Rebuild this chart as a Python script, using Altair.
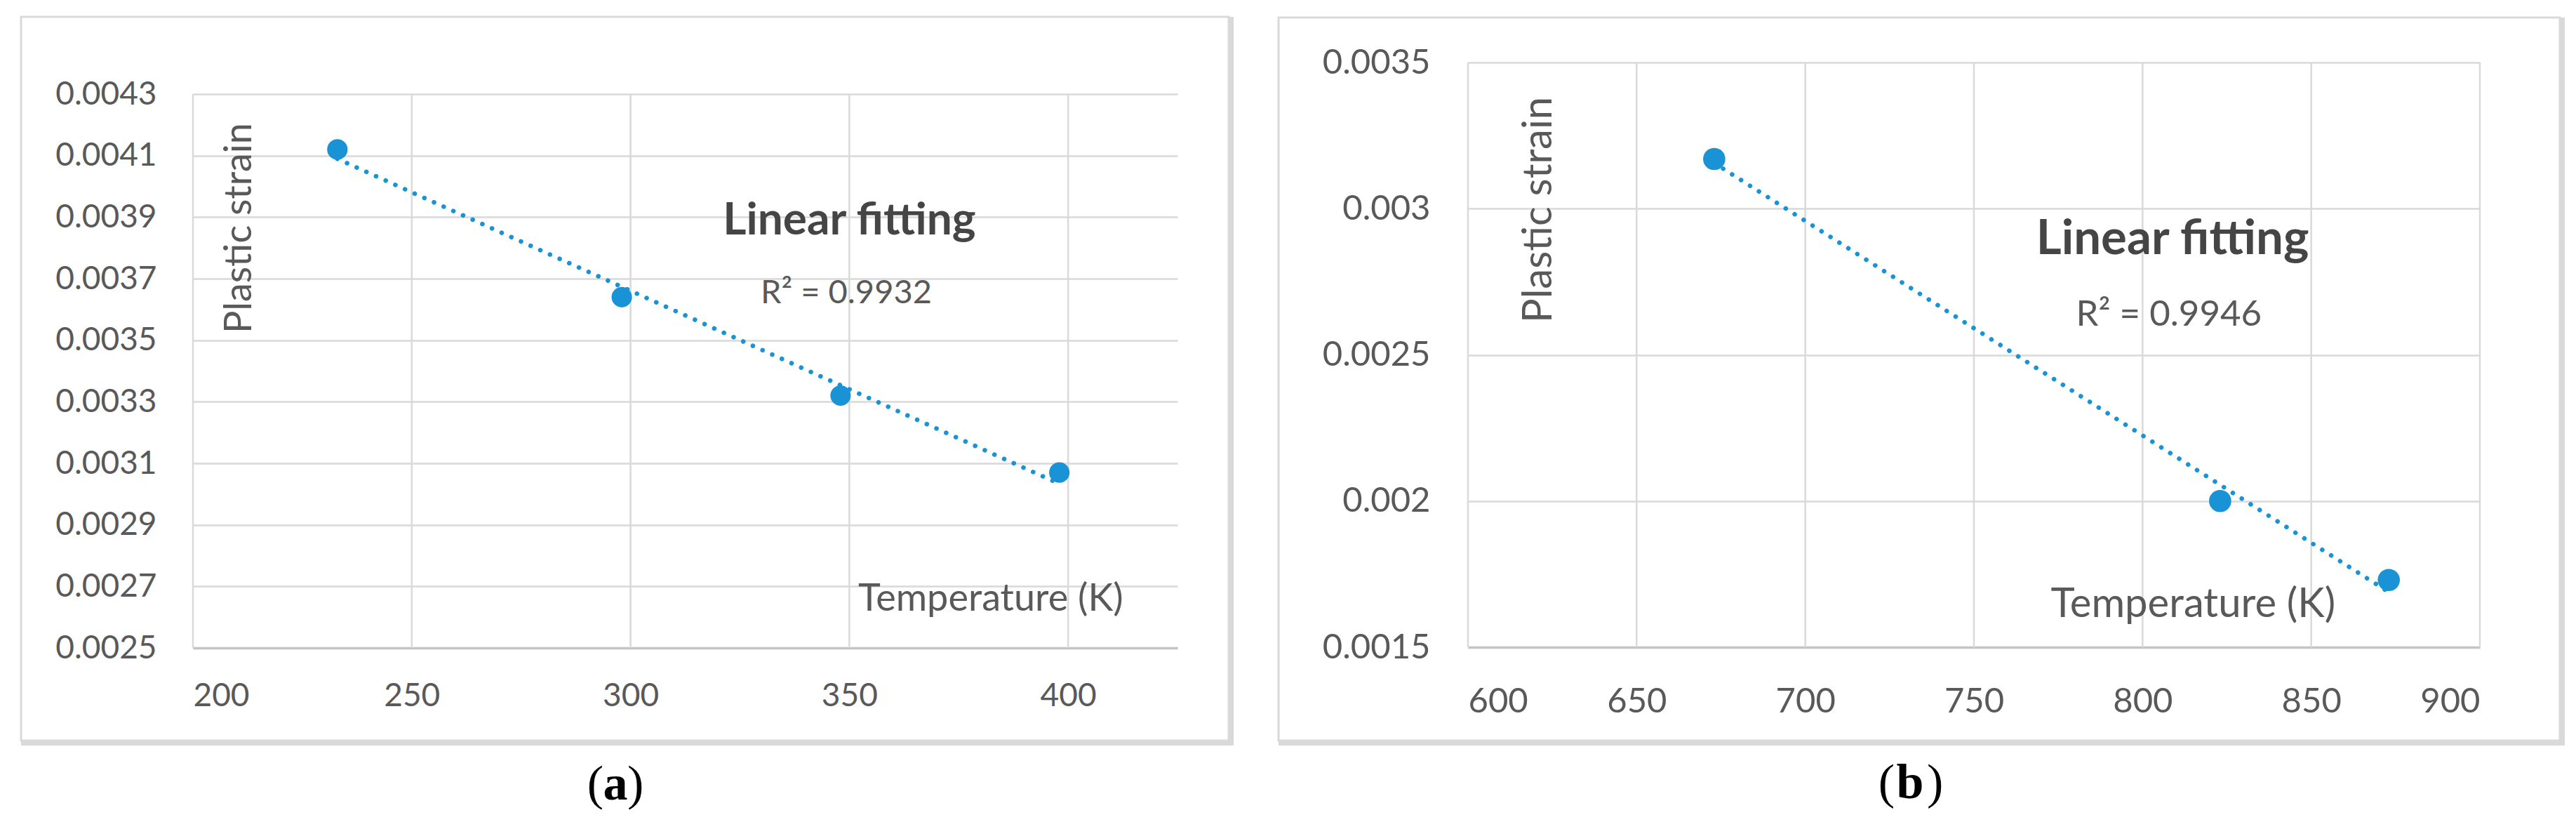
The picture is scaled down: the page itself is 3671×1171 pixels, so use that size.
import altair as alt
import pandas as pd

# ---- data ----
temp_a = [233, 298, 348, 398]
strain_a = [0.00412, 0.00364, 0.00332, 0.00307]
xticks_a = [200, 250, 300, 350, 400]
yticks_a = [0.0025, 0.0027, 0.0029, 0.0031, 0.0033, 0.0035, 0.0037, 0.0039, 0.0041, 0.0043]
r2_a = "R² = 0.9932"

temp_b = [673, 823, 873]
strain_b = [0.00317, 0.00200, 0.00173]
xticks_b = [600, 650, 700, 750, 800, 850, 900]
yticks_b = [0.0015, 0.002, 0.0025, 0.003, 0.0035]
r2_b = "R² = 0.9946"

BLUE = "#1a93d6"
GRID = "#d9d9d9"
TXT = "#595959"
FONT = "Lato"


def panel(temps, strains, xticks, yticks, xdom, ydom, yfmt, W, H, top_gap,
          border, tick_fs, ylpad, xlpad, pt_size, texts, label, label_pos):
    df = pd.DataFrame({"T": temps, "strain": strains})
    ticks_df = pd.DataFrame({"T": xticks})
    one = alt.Data(values=[{}])

    xenc = alt.X("T:Q", scale=alt.Scale(domain=xdom, nice=False, zero=False),
                 axis=alt.Axis(values=xticks, grid=False,
                               domain=True, domainColor="#c4c4c4", domainWidth=3.5,
                               ticks=False, tickSize=0, labelFont=FONT, labelFontSize=tick_fs,
                               labelColor=TXT, labelPadding=xlpad, title=None, format="d"))
    yenc = alt.Y("strain:Q", scale=alt.Scale(domain=ydom, nice=False, zero=False,
                                             range=[H, top_gap]),
                 axis=alt.Axis(values=yticks, grid=True, gridColor=GRID, gridWidth=2.5,
                               domain=False, ticks=False, tickSize=0, labelFont=FONT,
                               labelFontSize=tick_fs, labelColor=TXT, labelPadding=ylpad,
                               title=None, format=yfmt))

    L, T, R, B = border
    outline = alt.Chart(one).mark_rect(fill="white", fillOpacity=0, stroke=GRID, strokeWidth=3).encode(
        x=alt.value(L), x2=alt.value(R), y=alt.value(T), y2=alt.value(B))
    band_b = alt.Chart(one).mark_rect(color=GRID).encode(
        x=alt.value(L), x2=alt.value(R + 7), y=alt.value(B - 1), y2=alt.value(B + 7))
    band_r = alt.Chart(one).mark_rect(color=GRID).encode(
        x=alt.value(R - 1), x2=alt.value(R + 7), y=alt.value(T), y2=alt.value(B + 7))

    vgrid = alt.Chart(ticks_df).mark_rule(color=GRID, strokeWidth=2.5).encode(
        x=xenc, y=alt.value(top_gap), y2=alt.value(H))

    trend = alt.Chart(df).transform_regression("T", "strain").mark_line(
        color=BLUE, strokeWidth=6.5, strokeDash=[0.1, 15], strokeCap="round").encode(x=xenc, y=yenc)
    pts = alt.Chart(df).mark_circle(size=pt_size, color=BLUE, opacity=1).encode(x=xenc, y=yenc)

    layers = [outline, band_b, band_r, vgrid, trend, pts]
    for (txt, tx, ty, fs, weight, color, angle) in texts:
        kw = dict(text=txt, font=FONT, fontSize=fs, fontWeight=weight, color=color,
                  align="center", baseline="alphabetic")
        if angle:
            kw["angle"] = angle
        layers.append(alt.Chart(one).mark_text(**kw).encode(x=alt.datum(tx), y=alt.datum(ty)))

    lx_open, lx_mid, lx_close, ly = label_pos
    layers.append(alt.Chart(one).mark_text(text="(", font="Liberation Serif", fontSize=70,
                                           color="black", align="right", baseline="alphabetic").encode(
        x=alt.value(lx_open), y=alt.value(ly)))
    layers.append(alt.Chart(one).mark_text(text=label, font="Liberation Serif", fontSize=70,
                                           fontWeight="bold", color="black", align="center",
                                           baseline="alphabetic").encode(
        x=alt.value(lx_mid), y=alt.value(ly)))
    layers.append(alt.Chart(one).mark_text(text=")", font="Liberation Serif", fontSize=70,
                                           color="black", align="left", baseline="alphabetic").encode(
        x=alt.value(lx_close), y=alt.value(ly)))

    return alt.layer(*layers).properties(width=W, height=H)


texts_a = [
    ("Linear fitting", 350, 0.003844, 64, "bold", "#454545", 0),
    (r2_a, 349.3, 0.00362, 47, "normal", TXT, 0),
    ("Temperature (K)", 382.3, 0.002621, 54, "normal", TXT, 0),
    ("Plastic strain", 213.3, 0.003864, 54, "normal", TXT, 270),
]
texts_b = [
    ("Linear fitting", 808.9, 0.002845, 69, "bold", "#454545", 0),
    (r2_b, 807.8, 0.0026, 51, "normal", TXT, 0),
    ("Temperature (K)", 815, 0.001603, 58, "normal", TXT, 0),
    ("Plastic strain", 624.8, 0.002996, 58, "normal", TXT, 270),
]

# both views start at page y = 87; panel (a)'s plot area begins 45 px lower
pa = panel(temp_a, strain_a, xticks_a, yticks_a, [200, 425], [0.0025, 0.0043], ".4f",
           1403, 834, 45, (-245, -65, 1476, 966), 46, 52, 46, 850, texts_a, "a",
           (585, 602, 619, 1050))
pb = panel(temp_b, strain_b, xticks_b, yticks_b, [600, 900], [0.0015, 0.0035], "~f",
           1442, 833, 0, (-270, -64, 1556, 966), 49, 54, 53, 1000, texts_b, "b",
           (608, 630, 654, 1048))

chart = alt.hconcat(pa, pb, spacing=62).properties(
    padding={"left": 20, "top": 14, "right": 0, "bottom": 0},
    background="white",
).configure_view(stroke=None)

chart.save("out.html", embed_options={"renderer": "svg", "actions": False})
